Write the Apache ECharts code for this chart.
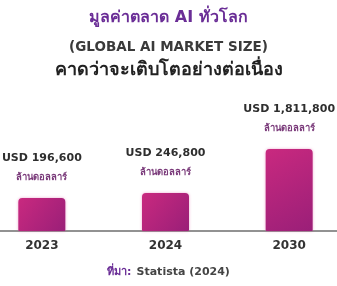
<!DOCTYPE html>
<html>
<head>
<meta charset="utf-8">
<script src="https://cdn.jsdelivr.net/npm/echarts@6/dist/echarts.min.js"></script>
<style>
  html, body { margin: 0; padding: 0; background: #fff; }
  #chart { width: 337px; height: 286px; }
</style>
</head>
<body>
<div id="chart"></div>
<script>
// ข้อมูลจากภาพ (ล้านดอลลาร์)
var years = ['2023', '2024', '2030'];
var marketSize = [196600, 246800, 1811800];
var unitLabel = 'ล้านดอลลาร์';

var titleLines = ['มูลค่าตลาด AI ทั่วโลก', '(GLOBAL AI MARKET SIZE)', 'คาดว่าจะเติบโตอย่างต่อเนื่อง'];
var sourceLabel = 'ที่มา:';
var sourceName = 'Statista (2024)';

var fontFamily = 'DejaVu Sans, Noto Sans, sans-serif';

function formatValue(v){
    return String(v).replace(/\B(?=(\d{3})+(?!\d))/g, ',');
}

var myChart = echarts.init(document.getElementById('chart'));

var option = {
    backgroundColor: '#ffffff',
    title: [
        {
            text: titleLines[0], left: 'center', top: 5,
            textStyle: { color: '#6a2d96', fontSize: 16, fontWeight: 'bold', fontFamily: fontFamily }
        },
        {
            text: titleLines[1], left: 'center', top: 35,
            textStyle: { color: '#3a3a3a', fontSize: 13.5, fontWeight: 'bold', fontFamily: fontFamily }
        },
        {
            text: titleLines[2], left: 'center', top: 56,
            textStyle: { color: '#222222', fontSize: 18, fontWeight: 'bold', fontFamily: fontFamily }
        },
        {
            text: '{a|' + sourceLabel + '} {b|' + sourceName + '}', left: 'center', top: 258,
            textStyle: {
                rich: {
                    a: { color: '#6a2d96', fontSize: 11, fontWeight: 'bold', fontFamily: fontFamily },
                    b: { color: '#444444', fontSize: 11, fontWeight: 'bold', fontFamily: fontFamily }
                }
            }
        }
    ],
    grid: { left: -20, right: -14, top: 101, height: 130, outerBoundsMode: 'none', containLabel: false },
    xAxis: {
        type: 'category',
        data: years,
        axisLine: { lineStyle: { color: '#6e6e6e', width: 1.5 } },
        axisTick: { show: false },
        axisLabel: { color: '#333333', fontSize: 12, fontWeight: 'bold', fontFamily: fontFamily, margin: 9 }
    },
    yAxis: {
        type: 'log',
        logBase: 10,
        min: 44000,
        max: 16000000,
        show: false,
        splitLine: { show: false }
    },
    series: [
        {
            type: 'bar',
            data: marketSize,
            barWidth: 47,
            itemStyle: {
                borderRadius: [4, 4, 1, 1],
                color: new echarts.graphic.LinearGradient(0, 0, 1, 1, [
                    { offset: 0, color: '#c9297f' },
                    { offset: 1, color: '#9a1f78' }
                ]),
                shadowBlur: 3,
                shadowColor: 'rgba(220, 60, 150, 0.45)'
            },
            label: {
                show: true,
                position: 'top',
                distance: 11,
                formatter: function(p){
                    return '{v|USD ' + formatValue(p.value) + '}\n{u|' + unitLabel + '}';
                },
                rich: {
                    v: { color: '#2e2e2e', fontSize: 11, fontWeight: 'bold', fontFamily: fontFamily, lineHeight: 22 },
                    u: { color: '#7a3a7a', fontSize: 9.5, fontWeight: 'bold', fontFamily: fontFamily, lineHeight: 18 }
                }
            }
        }
    ]
};

myChart.setOption(option);
</script>
</body>
</html>
